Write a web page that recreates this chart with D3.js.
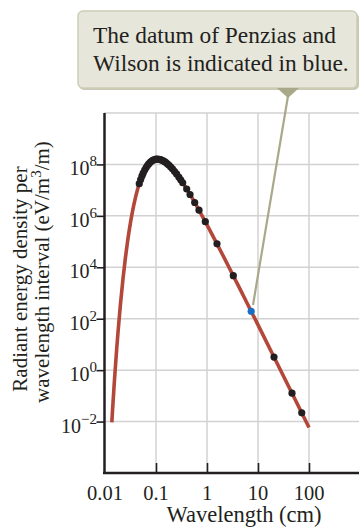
<!DOCTYPE html>
<html><head><meta charset="utf-8">
<script src="https://cdn.jsdelivr.net/npm/d3@7/dist/d3.min.js"></script>
<style>html,body{margin:0;padding:0;background:#fff;}svg{display:block;}</style>
</head><body>
<svg id="c" width="359" height="527"></svg>
<script>
// ---- data ----
const curveWavelength = [0.0136,0.014,0.015,0.016,0.017,0.018,0.02,0.0225,0.025,0.0275,0.03,0.035,0.04,0.045,0.05,0.06,0.07,0.08,0.09,0.1,0.12,0.15,0.2,0.25,0.3,0.4,0.5,0.7,1,2,5,10,20,50,100];
const curveDensity = [0.00923,0.0243,0.212,1.38,7.13,30.1,333,3475,21400,91000,2.91e5,1.66e6,5.62e6,1.36e7,2.58e7,6.04e7,9.82e7,1.29e8,1.50e8,1.60e8,1.56e8,1.25e8,7.48e7,4.39e7,2.66e7,1.11e7,5.32e6,1.65e6,4.48e5,3.22e4,895,57.4,3.64,0.0940,0.00589];
const dataWavelength = [0.047,0.05,0.053,0.056,0.06,0.064,0.068,0.072,0.077,0.082,0.088,0.094,0.1,0.107,0.115,0.123,0.132,0.142,0.153,0.165,0.178,0.193,0.21,0.23,0.253,0.28,0.305,0.334,0.40,0.465,0.574,0.697,0.927,1.57,3.28,20.6,46.4,72];
const dataDensity = [1.79e7,2.58e7,3.51e7,4.55e7,6.04e7,7.59e7,9.10e7,1.05e8,1.21e8,1.35e8,1.47e8,1.55e8,1.60e8,1.61e8,1.59e8,1.53e8,1.45e8,1.34e8,1.22e8,1.08e8,9.47e7,8.07e7,6.72e7,5.42e7,4.26e7,3.24e7,2.54e7,1.94e7,1.11e7,6.78e6,3.31e6,1.67e6,5.93e5,8.17e4,4.70e3,3.23,0.127,0.0219];
const penziasWavelength = [7.35];
const penziasDensity = [195];
const xTicks = [0.01,0.1,1,10,100];
const xTickLabels = ["0.01","0.1","1","10","100"];
const yTicks = [1e-2,1,1e2,1e4,1e6,1e8];
const yTickExponents = ["\u22122","0","2","4","6","8"];
const yLabelLines = ["Radiant energy density per","wavelength interval (eV/m"];
const xLabel = "Wavelength (cm)";
const calloutLines = ["The datum of Penzias and","Wilson is indicated in blue."];

// ---- layout ----
const svg = d3.select("#c");
const font = "'Liberation Serif','Times New Roman',serif";
const textCol = "#231f20";
const x = d3.scaleLog().domain([0.01,1000]).range([105,360]);
const y = d3.scaleLog().domain([1e-4,1e10]).range([473,113]);
const gridCol = "#d2d2d2";

// gridlines
const vGrid = [0.1,1,10,100];
svg.append("g").selectAll("line").data(vGrid).join("line")
  .attr("x1",d=>x(d)).attr("x2",d=>x(d)).attr("y1",y(1e10)).attr("y2",473)
  .attr("stroke",gridCol).attr("stroke-width",1.5);
const hGrid = [1e-2,1,1e2,1e4,1e6,1e8,1e10];
svg.append("g").selectAll("line").data(hGrid).join("line")
  .attr("x1",104).attr("x2",359).attr("y1",d=>y(d)).attr("y2",d=>y(d))
  .attr("stroke",gridCol).attr("stroke-width",1.5);

// x axis with inward ticks
const xAxis = d3.axisTop(x).tickValues([0.1,1,10,100]).tickSize(10).tickFormat("");
const gx = svg.append("g").attr("transform","translate(0,473)").call(xAxis);
gx.select(".domain").remove();
gx.selectAll(".tick line").attr("stroke","#231f20").attr("stroke-width",1.6);
svg.append("line").attr("x1",103).attr("x2",359).attr("y1",473).attr("y2",473)
  .attr("stroke","#231f20").attr("stroke-width",2.5);
svg.append("g").selectAll("text").data(xTicks).join("text")
  .attr("x",d=>x(d)).attr("y",500).attr("text-anchor","middle")
  .attr("font-family",font).attr("font-size",20.5).attr("fill",textCol)
  .text((d,i)=>xTickLabels[i]);

// y axis with outward ticks
const yAxis = d3.axisLeft(y).tickValues(yTicks).tickSize(8).tickFormat("");
const gy = svg.append("g").attr("transform","translate(104.5,0)").call(yAxis);
gy.select(".domain").remove();
gy.selectAll(".tick line").attr("stroke","#231f20").attr("stroke-width",1.6);
svg.append("line").attr("x1",104.5).attr("x2",104.5).attr("y1",113).attr("y2",474)
  .attr("stroke","#231f20").attr("stroke-width",2.5);
const yl = svg.append("g").selectAll("text").data(yTicks).join("text")
  .attr("x",97).attr("y",d=>y(d)+11).attr("text-anchor","end")
  .attr("font-family",font).attr("font-size",20).attr("fill",textCol);
yl.append("tspan").text("10");
yl.append("tspan").attr("dy",-9).attr("font-size",15).text((d,i)=>yTickExponents[i]);

// axis titles
svg.append("text").attr("x",244).attr("y",522).attr("text-anchor","middle")
  .attr("font-family",font).attr("font-size",22.5).attr("fill",textCol).text(xLabel);
svg.append("text").attr("transform","translate(27,279) rotate(-90)").attr("text-anchor","middle")
  .attr("font-family",font).attr("font-size",21).attr("fill",textCol).text(yLabelLines[0]);
const t2 = svg.append("text").attr("transform","translate(49,272) rotate(-90)").attr("text-anchor","middle")
  .attr("font-family",font).attr("font-size",21).attr("fill",textCol);
t2.append("tspan").text(yLabelLines[1]);
t2.append("tspan").attr("dy",-8).attr("font-size",15).text("3");
t2.append("tspan").attr("dy",8).text("/m)");

// curve
const line = d3.line().x((d,i)=>x(curveWavelength[i])).y((d,i)=>y(curveDensity[i])).curve(d3.curveMonotoneX);
svg.append("path").attr("d",line(curveWavelength)).attr("fill","none")
  .attr("stroke","#b2473a").attr("stroke-width",3.6).attr("stroke-linecap","butt");

// points
svg.append("g").selectAll("circle").data(dataWavelength).join("circle")
  .attr("cx",d=>x(d)).attr("cy",(d,i)=>y(dataDensity[i])).attr("r",3.6).attr("fill","#231f20");

// callout leader line
svg.append("line").attr("x1",288).attr("y1",96).attr("x2",253).attr("y2",305)
  .attr("stroke","#a9a98a").attr("stroke-width",2.2);
svg.append("g").selectAll("circle").data(penziasWavelength).join("circle")
  .attr("cx",d=>x(d)).attr("cy",(d,i)=>y(penziasDensity[i])).attr("r",3.6).attr("fill","#1a6fc4");

// callout box
svg.append("rect").attr("x",79).attr("y",13).attr("width",280).attr("height",77).attr("rx",5)
  .attr("fill","#c9c9b3");
svg.append("rect").attr("x",78).attr("y",11).attr("width",279).attr("height",77).attr("rx",5)
  .attr("fill","#e6e6da").attr("stroke","#cdcdb8").attr("stroke-width",1.5);
svg.append("path").attr("d","M277,88 L299,88 L288,98 Z").attr("fill","#a9a98a");
svg.append("g").selectAll("text").data(calloutLines).join("text")
  .attr("x",93).attr("y",(d,i)=>43+i*28)
  .attr("font-family",font).attr("font-size",23.4).attr("fill",textCol).text(d=>d);
</script>
</body></html>
